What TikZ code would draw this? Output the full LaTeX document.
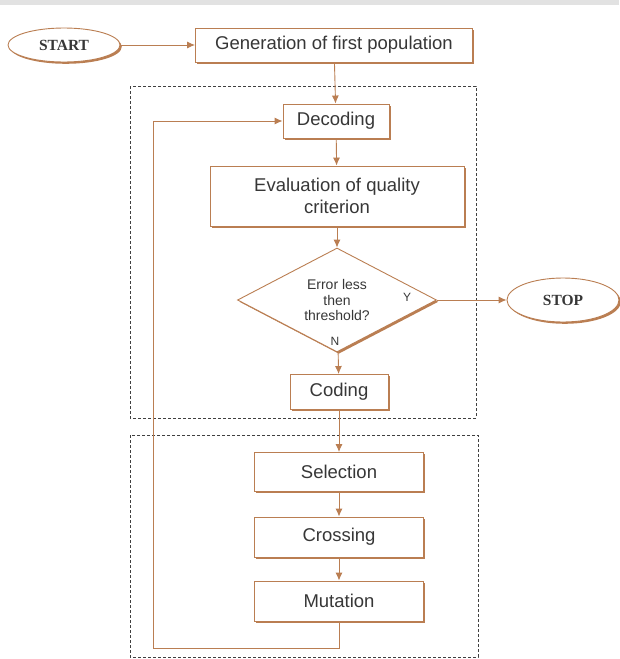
\documentclass[tikz,border=0pt]{standalone}
\usepackage{fontspec}
\setmainfont{Liberation Sans}
\newfontfamily\termfont{Liberation Serif}
\usetikzlibrary{shapes,arrows,arrows.meta,shadows}
\definecolor{brn}{RGB}{186,126,82}
\definecolor{txt}{RGB}{55,55,55}
\definecolor{band}{RGB}{226,226,226}

\begin{document}
\begin{tikzpicture}[x=1pt,y=-1pt,>={Latex[length=8pt,width=7pt]},
	box/.style={draw=brn,fill=white,line width=0.9pt,inner sep=0pt,text=txt,
		font=\fontsize{18.5}{22}\selectfont,align=center,
		general shadow={fill=brn,shadow xshift=1.8pt,shadow yshift=-1.8pt}},
	term/.style={box,ellipse,minimum width=112pt,minimum height=34pt,
		font=\termfont\bfseries\fontsize{15.5}{17}\selectfont},
	line/.style={draw=brn,line width=0.9pt},
	group/.style={draw=black!75,dash pattern=on 3pt off 2pt,line width=0.7pt}]
				\useasboundingbox (0,0) rectangle (619,659);
				\fill[band] (0,0) rectangle (619,5);% top band
				
				% groups
				\draw[group] (130,86) rectangle (476,418);
				\draw[group] (130,435) rectangle (478,657);
				
				\node[term] (start) at (64,45) {START};
				\node[box,minimum width=277pt,minimum height=34pt] (gen) at (334,45) {Generation of first population};
				\node[box,minimum width=106pt,minimum height=34pt] (dec) at (336,121) {Decoding};
				\node[box,minimum width=254pt,minimum height=60pt] (eval) at (337,196) {Evaluation of quality\\criterion};
				\node[box,diamond,aspect=1.9,minimum width=199pt,minimum height=104pt,
					font=\fontsize{14}{15.5}\selectfont] (err) at (337,300) {Error less\\then\\threshold?};
				\node[term,minimum height=44pt] (stop) at (563,300) {STOP};
				\node[box,minimum width=98pt,minimum height=35pt] (cod) at (339,392) {Coding};
				\node[box,minimum width=169pt,minimum height=39pt] (sel) at (339,472) {Selection};
				\node[box,minimum width=169pt,minimum height=40pt] (cro) at (339,537) {Crossing};
				\node[box,minimum width=169pt,minimum height=40pt] (mut) at (339,601) {Mutation};
				
				\node[text=txt,font=\fontsize{12}{14}\selectfont] at (407,297) {Y};
				\node[text=txt,font=\fontsize{12}{14}\selectfont] at (335,341) {N};
				
				\coordinate (loop) at (153,648);
				
				\draw[line,->] (start) -- (gen);
				\draw[line,->] (gen) -- (dec);
				\draw[line,->] (dec) -- (eval);
				\draw[line,->] (eval) -- (err);
				\draw[line,->] (err) -- (stop);
				\draw[line,->] (err) -- (cod);
				\draw[line,->] (cod) -- (sel);
				\draw[line,->] (sel) -- (cro);
				\draw[line,->] (cro) -- (mut);
				\draw[line,->] (mut) |- (loop) |- (dec);% back to decoding
				
\end{tikzpicture}
\end{document}
